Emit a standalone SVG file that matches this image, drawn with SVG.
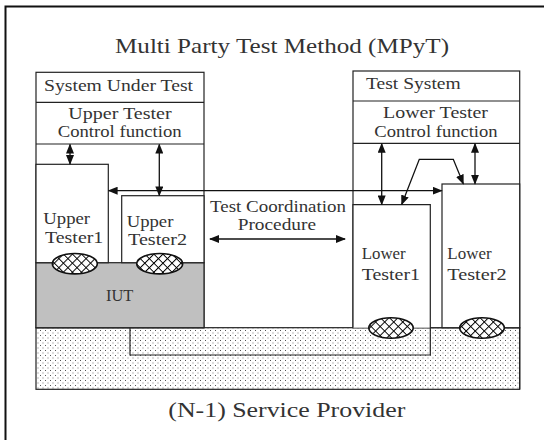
<svg xmlns="http://www.w3.org/2000/svg" width="544" height="440" viewBox="0 0 544 440">
  <style>
    text { font-family: "Liberation Serif", "Times New Roman", serif; fill: #333; font-weight: normal; }
    .lbl { font-size: 16px; }
    .big { font-size: 21px; }
    .box { fill: #fff; stroke: #222; stroke-width: 1.2; }
    .ln { fill: none; stroke: #222; stroke-width: 1.2; }
    .arr { fill: none; stroke: #111; stroke-width: 1.3; marker-start: url(#ah); marker-end: url(#ah); }
    .hatch { fill: url(#xh); stroke: #111; stroke-width: 1.6; }
  </style>
  <defs>
    <marker id="ah" markerUnits="userSpaceOnUse" markerWidth="10" markerHeight="8" refX="9" refY="4" orient="auto-start-reverse">
      <path d="M0,0 L10,4 L0,8 z" fill="#111"/>
    </marker>
    <pattern id="dots" width="5" height="5" patternUnits="userSpaceOnUse">
      <rect width="5" height="5" fill="#fff"/>
      <rect x="0" y="0" width="1" height="1" fill="#555"/>
      <rect x="2.5" y="2.5" width="1" height="1" fill="#777"/>
    </pattern>
    <pattern id="xh" width="6.4" height="6.4" patternUnits="userSpaceOnUse" patternTransform="rotate(45)">
      <rect width="6.4" height="6.4" fill="#fff"/>
      <path d="M0,0 H6.4 M0,0 V6.4" stroke="#000" stroke-width="2"/>
    </pattern>
  </defs>

  <!-- frame (left and top edges) -->
  <path d="M5.5,440 V6.5 H544" fill="none" stroke="#111" stroke-width="2"/>

  <text class="big" x="115" y="53" textLength="334" lengthAdjust="spacingAndGlyphs">Multi Party Test Method (MPyT)</text>

  <!-- (N-1) service provider layer -->
  <g id="service-provider">
    <rect x="36" y="327.7" width="483.7" height="61.6" fill="url(#dots)" stroke="#222" stroke-width="1.2"/>
    <path class="ln" d="M130,327.7 V355 H430.3"/>
    <text class="big" x="168.3" y="416.7" textLength="237" lengthAdjust="spacingAndGlyphs">(N-1) Service Provider</text>
  </g>

  <!-- system under test -->
  <g id="system-under-test">
    <rect class="box" x="36" y="72.3" width="168" height="255.4"/>
    <line class="ln" x1="36" y1="102.3" x2="204" y2="102.3"/>
    <line class="ln" x1="36" y1="144" x2="204" y2="144"/>
    <text class="lbl" x="44" y="91" textLength="149" lengthAdjust="spacingAndGlyphs">System Under Test</text>
  </g>
  <g id="upper-tester-control">
    <text class="lbl" x="68.3" y="119" textLength="103.3" lengthAdjust="spacingAndGlyphs">Upper Tester</text>
    <text class="lbl" x="57.7" y="137.3" textLength="124" lengthAdjust="spacingAndGlyphs">Control function</text>
  </g>
  <g id="iut">
    <rect x="36" y="262.7" width="168" height="65" fill="#c0c0c0" stroke="#222" stroke-width="1.2"/>
    <text class="lbl" x="106" y="301" textLength="27.3" lengthAdjust="spacingAndGlyphs">IUT</text>
  </g>
  <g id="upper-tester1">
    <rect class="box" x="36" y="164.3" width="72.3" height="98.4"/>
    <text class="lbl" x="43.3" y="224.3" textLength="46.7" lengthAdjust="spacingAndGlyphs">Upper</text>
    <text class="lbl" x="45" y="243.3" textLength="58.3" lengthAdjust="spacingAndGlyphs">Tester1</text>
    <ellipse class="hatch" cx="74.8" cy="263.7" rx="22.5" ry="10.2"/>
  </g>
  <g id="upper-tester2">
    <rect class="box" x="121.7" y="195.7" width="82.3" height="67"/>
    <text class="lbl" x="126.7" y="226.7" textLength="46.7" lengthAdjust="spacingAndGlyphs">Upper</text>
    <text class="lbl" x="128" y="245" textLength="59" lengthAdjust="spacingAndGlyphs">Tester2</text>
    <ellipse class="hatch" cx="159.7" cy="263.7" rx="23" ry="10.2"/>
  </g>

  <!-- test system -->
  <g id="test-system">
    <rect class="box" x="353" y="71" width="166.7" height="256.7"/>
    <line class="ln" x1="353" y1="101" x2="519.7" y2="101"/>
    <line class="ln" x1="353" y1="143.3" x2="519.7" y2="143.3"/>
    <line class="ln" x1="519.7" y1="327.7" x2="519.7" y2="389.3"/>
    <text class="lbl" x="366" y="89.3" textLength="94.7" lengthAdjust="spacingAndGlyphs">Test System</text>
  </g>
  <g id="lower-tester-control">
    <text class="lbl" x="383" y="118.3" textLength="105" lengthAdjust="spacingAndGlyphs">Lower Tester</text>
    <text class="lbl" x="374.3" y="136.7" textLength="123.3" lengthAdjust="spacingAndGlyphs">Control function</text>
  </g>
  <g id="lower-tester1">
    <rect x="353" y="204.7" width="77.3" height="123" fill="#fff"/>
    <path class="ln" d="M353,327.7 V204.7 H430.3 V355"/>
    <text class="lbl" x="361.7" y="259.3" textLength="44" lengthAdjust="spacingAndGlyphs">Lower</text>
    <text class="lbl" x="361.7" y="280" textLength="58.3" lengthAdjust="spacingAndGlyphs">Tester1</text>
    <ellipse class="hatch" cx="391" cy="328" rx="22.2" ry="10.2"/>
  </g>
  <g id="lower-tester2">
    <rect class="box" x="442" y="184" width="77.7" height="143.7"/>
    <text class="lbl" x="447.3" y="259.3" textLength="44.3" lengthAdjust="spacingAndGlyphs">Lower</text>
    <text class="lbl" x="447.3" y="280" textLength="59.3" lengthAdjust="spacingAndGlyphs">Tester2</text>
    <ellipse class="hatch" cx="482" cy="328" rx="22.3" ry="10.2"/>
  </g>

  <!-- test coordination procedure -->
  <g id="test-coordination">
    <text class="lbl" x="210" y="211.7" textLength="136" lengthAdjust="spacingAndGlyphs">Test Coordination</text>
    <text class="lbl" x="237.7" y="230" textLength="78.3" lengthAdjust="spacingAndGlyphs">Procedure</text>
  </g>

  <!-- connectors -->
  <g id="connectors">
    <line class="arr" x1="70" y1="144.5" x2="70" y2="164"/>
    <line class="arr" x1="159.3" y1="144.5" x2="159.3" y2="195.4"/>
    <line class="arr" x1="108.6" y1="190.7" x2="441.7" y2="190.7"/>
    <line class="arr" x1="210" y1="239" x2="345" y2="239"/>
    <line class="arr" x1="381.7" y1="143.8" x2="381.7" y2="204.4"/>
    <line class="arr" x1="475" y1="143.8" x2="475" y2="183.7"/>
    <polyline class="arr" points="401.7,204.4 419.3,159.3 453.3,159.3 463.3,183.7"/>
  </g>
</svg>
